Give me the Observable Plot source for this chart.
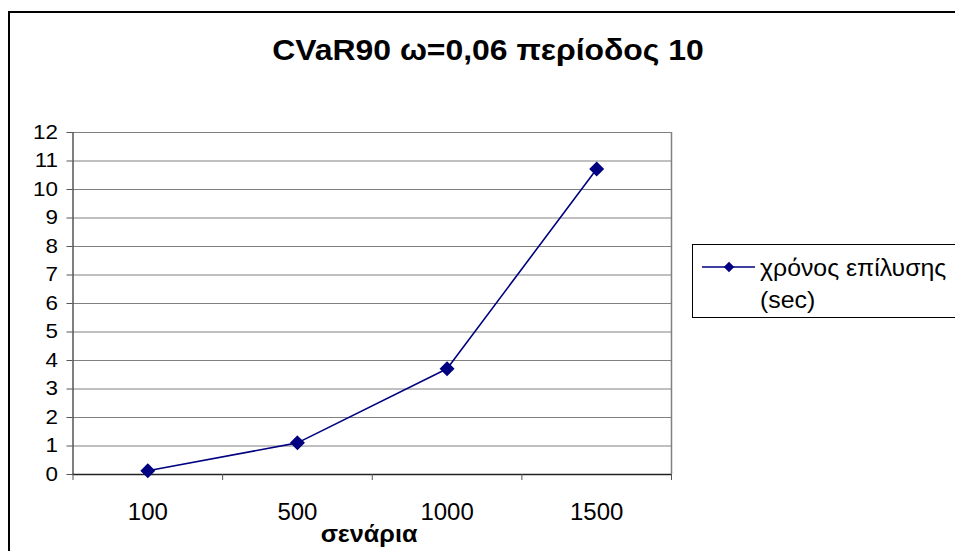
<!DOCTYPE html>
<html>
<head>
<meta charset="utf-8">
<script src="https://cdn.jsdelivr.net/npm/d3@7"></script>
<script src="https://cdn.jsdelivr.net/npm/@observablehq/plot@0.6"></script>
<style>
  body { margin: 0; background: #fff; }
  #chart { position: relative; width: 955px; height: 551px; overflow: hidden;
           font-family: "Liberation Sans", Arial, sans-serif; background: #fff; }
  #chart > svg { position: absolute; left: 0; top: 0; }
  #frame { position: absolute; left: 8px; top: 11px; width: 980px; height: 580px;
           border: 2px solid #000; box-sizing: border-box; }
  #overlay { pointer-events: none; }
</style>
</head>
<body>
<div id="chart"><div id="frame"></div></div>
<script>
// Solve time per number of scenarios
const scenarios = ["100", "500", "1000", "1500"];
const solveTime = [0.13, 1.11, 3.71, 10.72];
const yTicks = [0, 1, 2, 3, 4, 5, 6, 7, 8, 9, 10, 11, 12];

const titleText = "CVaR90 ω=0,06 περίοδος 10";
const xTitle = "σενάρια";
const seriesName = ["χρόνος επίλυσης", "(sec)"];

const navy = "#000080";

// Categories sit in the middle of equal slots; ticks mark slot boundaries
const rows = scenarios.map((s, i) => ({scenario: s, slot: i + 0.5, t: solveTime[i]}));
const boundaries = d3.range(scenarios.length + 1);
const centers = rows.map(d => d.slot);

const plot = Plot.plot({
  width: 955,
  height: 551,
  marginLeft: 72.5,
  marginRight: 284,
  marginTop: 132,
  marginBottom: 77,
  style: {fontFamily: "'Liberation Sans', Arial, sans-serif", background: "transparent", overflow: "visible"},
  x: {type: "linear", domain: [0, scenarios.length]},
  y: {domain: [0, 12]},
  marks: [
    Plot.gridY(yTicks, {stroke: "#808080", strokeOpacity: 1, strokeWidth: 1}),
    Plot.ruleX([scenarios.length], {stroke: "#808080", strokeWidth: 1.5}),
    Plot.ruleX([0], {stroke: "#555", strokeWidth: 1.5}),
    Plot.ruleY([0], {stroke: "#222", strokeWidth: 1.5}),
    Plot.axisY({ticks: yTicks, tickSize: 6, tickPadding: 9, fontSize: 20, stroke: "#555",
                color: "#000", tickFormat: d => String(d), label: null}),
    Plot.axisX({ticks: boundaries, tickSize: 6, stroke: "#555", tickFormat: () => "", label: null}),
    Plot.axisX({ticks: centers, tickSize: 0, tickPadding: 28, fontSize: 24, color: "#000",
                tickFormat: d => scenarios[Math.floor(d)], label: null}),
    Plot.line(rows, {x: "slot", y: "t", stroke: navy, strokeWidth: 1.6}),
    Plot.dot(rows, {x: "slot", y: "t", symbol: "diamond2", r: 5.8, fill: navy, stroke: navy})
  ]
});
document.getElementById("chart").appendChild(plot);

// Widen the value labels a little (text is drawn slightly wide)
d3.select(plot).selectAll('g[aria-label="y-axis tick label"] text')
  .attr("transform", function () { return this.getAttribute("transform") + " scale(1.12,1)"; });

// Title, axis title and legend drawn on top
const ov = d3.select("#chart").append("svg")
  .attr("id", "overlay")
  .attr("width", 955).attr("height", 551)
  .style("font-family", "'Liberation Sans', Arial, sans-serif");

ov.append("text").attr("transform", "translate(488,59.5) scale(1.1,1)").attr("text-anchor", "middle")
  .attr("font-weight", "bold").attr("font-size", 29).text(titleText);

ov.append("text").attr("transform", "translate(369,541.5) scale(1.05,1)").attr("text-anchor", "middle")
  .attr("font-weight", "bold").attr("font-size", 24).text(xTitle);

const lg = ov.append("g");
lg.append("rect").attr("x", 692.5).attr("y", 244.5).attr("width", 400).attr("height", 73)
  .attr("fill", "#fff").attr("stroke", "#000").attr("stroke-width", 1);
lg.append("line").attr("x1", 702).attr("x2", 755).attr("y1", 267).attr("y2", 267)
  .attr("stroke", navy).attr("stroke-width", 1.6);
lg.append("path").attr("d", d3.symbol(d3.symbolDiamond2, 70)()).attr("transform", "translate(729,267)")
  .attr("fill", navy);
lg.append("text").attr("transform", "translate(760,276) scale(1.08,1)").attr("font-size", 23).text(seriesName[0]);
lg.append("text").attr("transform", "translate(760,308) scale(1.08,1)").attr("font-size", 23).text(seriesName[1]);
</script>
</body>
</html>
